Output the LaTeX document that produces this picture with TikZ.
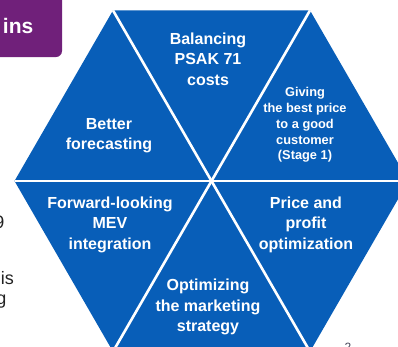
\documentclass[tikz,border=0pt]{standalone}
\usepackage{fontspec}
\setmainfont{Liberation Sans}
\definecolor{hexblue}{RGB}{8,94,184}
\definecolor{slidepurple}{RGB}{112,32,122}
\definecolor{bodytext}{RGB}{34,34,34}
\definecolor{pagegray}{RGB}{70,70,90}
\tikzset{
  seglabel/.style={text=white, align=center, inner sep=0pt,
    font=\bfseries\fontsize{16}{20.5}\selectfont},
  smalllabel/.style={text=white, align=center, inner sep=0pt,
    font=\bfseries\fontsize{12.8}{15.8}\selectfont},
  divider/.style={draw=white, line width=2.6pt},
  titletext/.style={text=white, inner sep=0pt,
    font=\bfseries\fontsize{21}{25}\selectfont},
  fragment/.style={text=bodytext, inner sep=0pt,
    font=\fontsize{18}{21}\selectfont},
  pagenum/.style={text=pagegray, inner sep=0pt,
    font=\fontsize{12}{14}\selectfont}
}
\begin{document}
\begin{tikzpicture}[x=1pt,y=-1pt]
\useasboundingbox (0,0) rectangle (398,346);
\clip (0,0) rectangle (398,346);
\fill[white] (0,0) rectangle (398,346);

% title tab in the upper left corner
\fill[slidepurple, rounded corners=6pt] (-20,-20) rectangle (62,57);
\node[titletext, anchor=base east] (title) at (33.5,33.3) {ins};

% body text running in from the left margin
\node[fragment, anchor=base east] (fragA) at (4.5,228.5) {9};
\node[fragment, anchor=base east] (fragB) at (14,284) {is};
\node[fragment, anchor=base east] (fragC) at (6.5,304) {g};

% hexagon, flat top, centre c
\coordinate (c)  at (211.5,181);
\coordinate (v0) at (408.5,181);
\coordinate (v1) at (310,10.4);
\coordinate (v2) at (113,10.4);
\coordinate (v3) at (14.5,181);
\coordinate (v4) at (113,351.6);
\coordinate (v5) at (310,351.6);
\fill[hexblue] (v0) -- (v1) -- (v2) -- (v3) -- (v4) -- (v5) -- cycle;
\draw[divider] (v0) -- (v3);
\draw[divider] (v1) -- (v4);
\draw[divider] (v2) -- (v5);

% six segment labels
\node[seglabel] (psak) at (208,59) {Balancing\\PSAK 71\\costs};
\node[smalllabel] (price1) at (305,125) {Giving\\the best price\\to a good\\customer\\(Stage 1)};
\node[seglabel] (forecast) at (109,135.7) {Better\\forecasting};
\node[seglabel] (mev) at (110,224.7) {Forward-looking\\MEV\\integration};
\node[seglabel] (profit) at (306,224.7) {Price and\\profit\\optimization};
\node[seglabel] (market) at (208,307) {Optimizing\\the marketing\\strategy};

% page number
\node[pagenum, anchor=base west] (pg) at (344.5,351) {2};
\end{tikzpicture}
\end{document}
